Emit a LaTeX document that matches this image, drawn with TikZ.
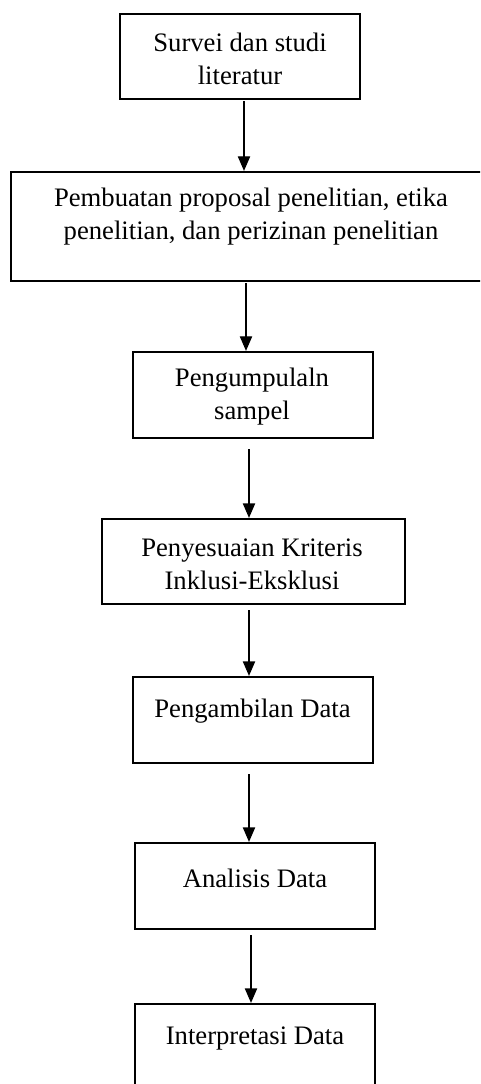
\documentclass[tikz,border=0pt]{standalone}
\usepackage{fontspec}
\setmainfont{Liberation Serif}
\usepackage{tikz}
\usetikzlibrary{arrows.meta,calc}
\tikzset{
  stepbox/.style={draw,line width=1pt,inner sep=0pt},
  steptext/.style={align=center,inner sep=0pt,
                   font=\fontsize{12}{14.85}\selectfont},
  flowarrow/.style={-{Triangle[length=6.5pt,width=5.5pt]},line width=0.5pt},
}

\begin{document}
\begin{tikzpicture}[x=0.45pt,y=-0.45pt]
  \useasboundingbox(0,0)rectangle(480,1084);
  \clip(0,0)rectangle(480,1084);
  % Boxes
  \node[stepbox,minimum width=108pt,minimum height=38.25pt](b1)at(240,56.5){};
  \node[stepbox,minimum width=216pt,minimum height=49.05pt](b2)at(251,226.5){};
  \node[stepbox,minimum width=108pt,minimum height=38.7pt](b3)at(253,395){};
  \node[stepbox,minimum width=136.35pt,minimum height=38.25pt](b4)at(253.5,561.5){};
  \node[stepbox,minimum width=108pt,minimum height=38.7pt](b5)at(253,720){};
  \node[stepbox,minimum width=108pt,minimum height=38.7pt](b6)at(255,886){};
  \node[stepbox,minimum width=108pt,minimum height=38.7pt](b7)at(255,1047){};
  % Texts
  \node[steptext](t1)at(240,59){Survei dan studi\\literatur};
  \node[steptext](t2)at(251,217){Pembuatan proposal penelitian, etika\\
    penelitian, dan perizinan penelitian};
  \node[steptext](t3)at(252,397){Pengumpulaln\\sampel};
  \node[steptext](t4)at(252,564){Penyesuaian Kriteris\\Inklusi-Eksklusi};
  \node[steptext](t5)at(252.5,711){Pengambilan Data};
  \node[steptext](t6)at(255,878){Analisis Data};
  \node[steptext](t7)at(255,1038){Interpretasi Data};
  % Arrows
  \foreach \a/\b/\dx/\gap in {b1/b2/4/1,b2/b3/-5/1,b3/b4/-4/10,
                              b4/b5/-4.5/5,b5/b6/-4/10,b6/b7/-4/5}{
    \draw[flowarrow]($(\a.south)+(\dx,\gap)$)coordinate(s\a)--(s\a|-\b.north);
  }
\end{tikzpicture}
\end{document}
